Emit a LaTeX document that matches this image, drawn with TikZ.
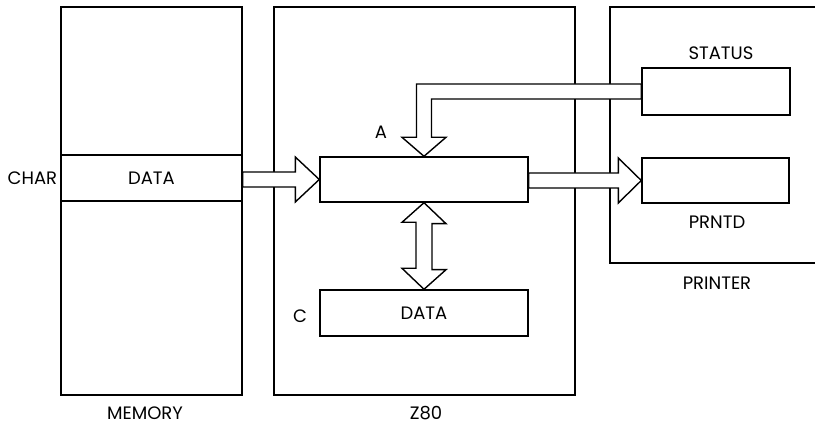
\documentclass[tikz,border=0pt]{standalone}
\usepackage{fontspec}
\setmainfont{Poppins}
\usetikzlibrary{positioning,calc}

\tikzset{
  unit/.style={draw, line width=1.4pt, inner sep=0pt,
    font=\fontsize{18}{18}\selectfont},
  bus/.style={draw, fill=white, line width=1.4pt, line join=miter},
  lbl/.style={inner sep=0pt, font=\fontsize{18}{18}\selectfont}
}

\begin{document}
\begin{tikzpicture}[x=1pt,y=1pt]
  \useasboundingbox (0,0) rectangle (815,-427);
  \clip (0,0) rectangle (815,-427);

  % blocks
  \node[unit, minimum width=181, minimum height=388] (mem) at (151.5,-201) {};
  \node[unit, minimum width=181, minimum height=46] (memdata) at (151.5,-178) {DATA};
  \node[unit, minimum width=301, minimum height=388] (z80) at (424.5,-201) {};
  \node[unit, minimum width=230, minimum height=256] (prn) at (725,-135) {};
  \node[unit, minimum width=148, minimum height=47] (status) at (716,-91.5) {};
  \node[unit, minimum width=147, minimum height=45] (prntd) at (715.5,-180.5) {};
  \node[unit, minimum width=208, minimum height=45] (rega) at (424,-179.5) {};
  \node[unit, minimum width=208, minimum height=46] (regc) at (424,-313) {DATA};

  % buses
  \draw[bus] (rega.west) -- ++(-24,22.5) -- ++(0,-15) coordinate (p1)
    -- (p1 -| mem.east) -- ++(0,-15) coordinate (p2) -- (p2 -| p1)
    -- ++(0,-15) -- cycle;
  \draw[bus] (prntd.west) -- ++(-23,22.5) -- ++(0,-15) coordinate (p1)
    -- (p1 -| rega.east) -- ++(0,-15) coordinate (p2) -- (p2 -| p1)
    -- ++(0,-15) -- cycle;
  \coordinate (st1) at ($(status.west)+(0,7.5)$);
  \coordinate (st2) at ($(status.west)+(0,-7.5)$);
  \coordinate (p2) at ($(rega.north)+(7.5,19)$);
  \draw[bus] (rega.north) -- ++(-22,19) -- ++(14.5,0) coordinate (p1)
    -- (p1 |- st1) -- (st1) -- (st2) -- (st2 -| p2) -- (p2)
    -- ++(14.5,0) -- cycle;
  \draw[bus] (rega.south) -- ++(22,-21) -- ++(-14,0) -- ++(0,-46)
    -- ++(14,0) -- (regc.north) -- ++(-22,21) -- ++(14,0) -- ++(0,46)
    -- ++(-14,0) -- cycle;

  % labels
  \node[lbl, left=3pt of memdata.west] (charlbl) {CHAR};
  \node[lbl] (memlbl) at (145,-413) {MEMORY};
  \node[lbl] (z80lbl) at (426,-413) {Z80};
  \node[lbl] (prnlbl) at (717,-283) {PRINTER};
  \node[lbl] (stlbl) at (721,-53) {STATUS};
  \node[lbl] (pdlbl) at (717,-222) {PRNTD};
  \node[lbl] (albl) at (381,-132) {A};
  \node[lbl] (clbl) at (300,-316) {C};
\end{tikzpicture}
\end{document}
